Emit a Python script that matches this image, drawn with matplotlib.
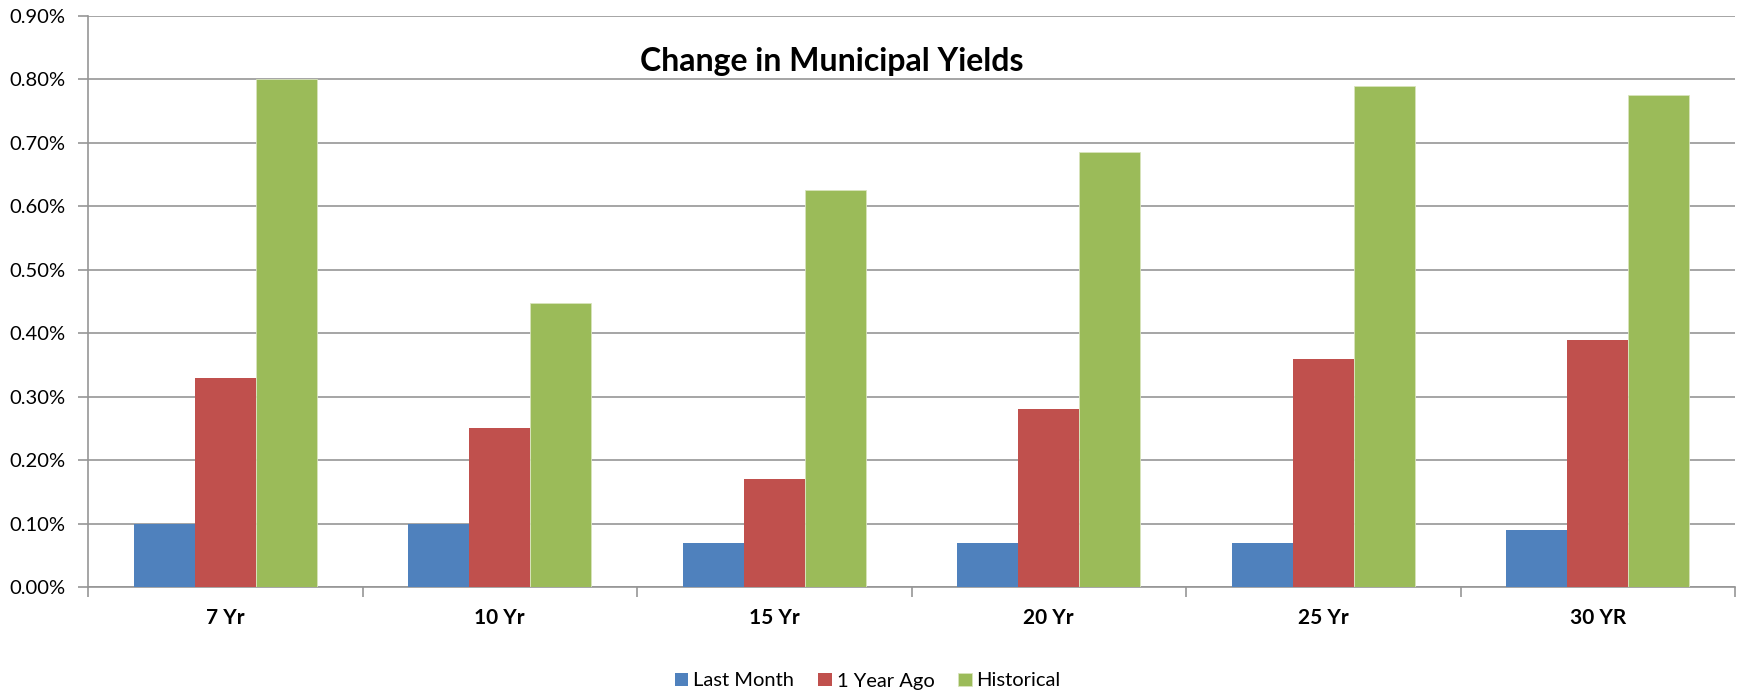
import matplotlib
matplotlib.use("Agg")
import matplotlib.pyplot as plt
import numpy as np
from matplotlib.ticker import FuncFormatter, FixedLocator, NullFormatter

categories = ["7 Yr", "10 Yr", "15 Yr", "20 Yr", "25 Yr", "30 YR"]
last_month = [0.10, 0.10, 0.07, 0.07, 0.07, 0.09]
one_year_ago = [0.33, 0.25, 0.17, 0.28, 0.36, 0.39]
historical = [0.80, 0.447, 0.626, 0.685, 0.789, 0.775]
series_names = ["Last Month", "1 Year Ago", "Historical"]
colors = ["#4F81BD", "#C0504D", "#9BBB59"]

plt.rcParams['font.family'] = ['Lato', 'DejaVu Sans']

fig = plt.figure(figsize=(17.39, 6.95), dpi=100)
ax = fig.add_axes([88/1739, 1-587/695, (1735-88)/1739, (587-16)/695])

n = len(categories)
x = np.arange(n)
w = 1/4.5
for i, (vals, name, c) in enumerate(zip([last_month, one_year_ago, historical], series_names, colors)):
    ax.bar(x + (i-1)*w, vals, width=w, color=c, label=name, edgecolor='#d8e4bc' if i == 2 else 'none', linewidth=0.6, zorder=3)

ax.set_xlim(-0.5, n-0.5)
ax.set_ylim(0, 0.9)
ax.set_yticks(np.arange(0, 0.91, 0.1))
ax.yaxis.set_major_formatter(FuncFormatter(lambda v, p: f"{v:.2f}%"))
ax.grid(axis='y', color='#969696', linewidth=1.2, zorder=0)
ax.set_axisbelow(True)

ax.xaxis.set_major_locator(FixedLocator(np.arange(-0.5, n, 1.0)))
ax.xaxis.set_major_formatter(NullFormatter())
ax.xaxis.set_minor_locator(FixedLocator(x))
ax.set_xticklabels(categories, minor=True)
ax.tick_params(axis='x', which='minor', length=0, pad=15, labelsize=15)
for lbl in ax.get_xticklabels(minor=True):
    lbl.set_fontweight('bold')
ax.tick_params(axis='x', which='major', length=7, color='#969696', width=1.2)
ax.tick_params(axis='y', length=7, color='#969696', width=1.2, labelsize=14.5, pad=9)

for s in ['top', 'right']:
    ax.spines[s].set_visible(False)
for s in ['left', 'bottom']:
    ax.spines[s].set_color('#969696')
    ax.spines[s].set_linewidth(1.2)

fig.text(832/1739, 1-61/695, "Change in Municipal Yields", ha='center', va='center',
         fontsize=23, fontweight='bold')

leg = fig.legend(loc='center', bbox_to_anchor=(868/1739, 1-681/695), ncol=3, frameon=False,
                 fontsize=14.5, handlelength=0.65, handleheight=0.65, handletextpad=0.25, columnspacing=1.2)

fig.savefig("out.png", dpi=100)
